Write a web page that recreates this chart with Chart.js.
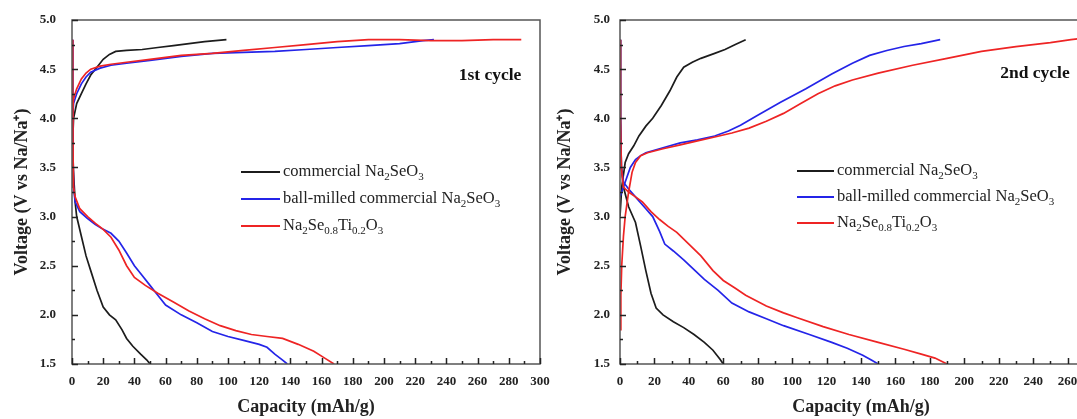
<!DOCTYPE html>
<html>
<head>
<meta charset="utf-8">
<script src="https://cdn.jsdelivr.net/npm/chart.js@4.4.1/dist/chart.umd.min.js"></script>
<style>
  html, body { margin: 0; padding: 0; background: #fff; width: 1077px; height: 419px; overflow: hidden; }
  .panel { position: absolute; top: 0; height: 419px; }
  #p1 { left: 0; width: 560px; }
  #p2 { left: 545px; width: 567px; }
</style>
</head>
<body>
<div class="panel" id="p1"><canvas id="cycle1"></canvas></div>
<div class="panel" id="p2"><canvas id="cycle2"></canvas></div>
<script>
// ---- data: [capacity mAh/g, voltage V] ----

// 1st cycle
const c1CommercialCharge = [[0,3.3],[0.5,3.8],[1,4.0],[3,4.15],[6,4.25],[9,4.35],[12,4.44],[16,4.52],[20,4.6],[24,4.65],[28,4.68],[35,4.69],[45,4.7],[55,4.72],[65,4.74],[75,4.76],[85,4.78],[99,4.8]];
const c1CommercialDischarge = [[0,4.8],[0.3,4.0],[0.8,3.5],[2,3.15],[3,3.0],[6,2.8],[9,2.6],[12,2.45],[16,2.25],[20,2.08],[24,2.0],[28,1.95],[32,1.85],[35,1.76],[39,1.68],[44,1.6],[48,1.54],[50,1.5]];
const c1MilledCharge = [[0,3.3],[0.5,4.0],[1,4.15],[3,4.25],[6,4.35],[9,4.42],[12,4.47],[18,4.51],[25,4.54],[35,4.56],[50,4.59],[70,4.63],[90,4.66],[110,4.67],[130,4.68],[150,4.7],[170,4.72],[190,4.74],[210,4.76],[225,4.79],[232,4.8]];
const c1MilledDischarge = [[0,4.8],[0.5,3.8],[1,3.3],[2,3.15],[5,3.05],[10,2.98],[15,2.92],[20,2.87],[25,2.83],[30,2.75],[35,2.63],[40,2.5],[45,2.4],[50,2.3],[55,2.2],[60,2.1],[70,2.0],[80,1.92],[90,1.83],[100,1.78],[110,1.74],[120,1.7],[125,1.67],[130,1.6],[135,1.54],[138,1.5]];
const c1DopedCharge = [[0,3.3],[0.5,4.1],[1,4.2],[3,4.3],[6,4.4],[9,4.46],[12,4.5],[18,4.53],[25,4.55],[35,4.57],[50,4.6],[70,4.64],[90,4.66],[110,4.69],[130,4.72],[150,4.75],[170,4.78],[190,4.8],[210,4.8],[230,4.79],[250,4.79],[270,4.8],[288,4.8]];
const c1DopedDischarge = [[0,4.8],[0.5,3.8],[1,3.3],[2,3.2],[5,3.08],[10,3.0],[15,2.93],[20,2.87],[25,2.79],[30,2.66],[35,2.5],[40,2.38],[47,2.3],[55,2.22],[65,2.13],[75,2.04],[85,1.96],[95,1.89],[105,1.84],[115,1.8],[125,1.78],[135,1.76],[145,1.7],[155,1.63],[162,1.56],[168,1.5]];

// 2nd cycle
const c2CommercialCharge = [[0,3.0],[1,3.3],[3,3.55],[5,3.64],[8,3.72],[11,3.82],[15,3.92],[19,4.0],[24,4.13],[29,4.28],[33,4.42],[37,4.52],[42,4.57],[47,4.61],[55,4.66],[61,4.7],[67,4.75],[73,4.8]];
const c2CommercialDischarge = [[0,4.8],[0.3,4.0],[0.8,3.5],[2,3.3],[5,3.1],[9,2.94],[12,2.7],[15,2.45],[18,2.22],[21,2.07],[25,2.0],[31,1.93],[37,1.87],[43,1.8],[49,1.72],[54,1.64],[58,1.55],[60,1.5]];
const c2MilledCharge = [[0,3.2],[2,3.3],[4,3.4],[6,3.5],[9,3.58],[12,3.62],[15,3.65],[25,3.7],[35,3.75],[45,3.78],[55,3.82],[63,3.87],[70,3.93],[80,4.03],[93,4.16],[108,4.3],[123,4.45],[135,4.56],[145,4.64],[155,4.69],[165,4.73],[175,4.76],[186,4.8]];
const c2MilledDischarge = [[0,4.8],[0.3,4.0],[0.8,3.5],[2,3.35],[5,3.28],[10,3.18],[15,3.08],[19,3.0],[23,2.85],[26,2.72],[31,2.65],[37,2.56],[43,2.46],[49,2.36],[57,2.25],[65,2.12],[75,2.03],[85,1.96],[95,1.89],[110,1.8],[123,1.72],[132,1.66],[141,1.59],[146,1.54],[150,1.5]];
const c2DopedCharge = [[0,1.85],[0.5,2.2],[1,2.5],[2,2.8],[3,3.0],[5,3.25],[7,3.45],[9,3.55],[12,3.62],[16,3.65],[25,3.69],[35,3.73],[45,3.77],[55,3.81],[65,3.85],[75,3.9],[85,3.97],[95,4.05],[105,4.15],[115,4.25],[125,4.33],[135,4.39],[150,4.46],[170,4.54],[190,4.61],[210,4.68],[230,4.73],[250,4.77],[262,4.8],[272,4.82]];
const c2DopedDischarge = [[0,4.8],[0.3,4.0],[0.8,3.5],[2,3.3],[5,3.25],[9,3.2],[13,3.15],[18,3.05],[23,2.97],[28,2.9],[33,2.84],[40,2.72],[47,2.6],[54,2.45],[60,2.35],[67,2.27],[73,2.2],[85,2.09],[95,2.02],[103,1.97],[118,1.88],[133,1.8],[150,1.72],[165,1.65],[175,1.6],[183,1.56],[190,1.5]];

const seriesLabels = [
  "commercial Na_{2}SeO_{3}",
  "ball-milled commercial Na_{2}SeO_{3}",
  "Na_{2}Se_{0.8}Ti_{0.2}O_{3}"
];
const seriesColors = ["#1c1c1c", "#2424e8", "#ee2424"];
const yTicks = [1.5, 2.0, 2.5, 3.0, 3.5, 4.0, 4.5, 5.0];

const SERIF = '"Liberation Serif", "Times New Roman", serif';

// rich text with _{sub} parts
function drawRich(ctx, text, x, y) {
  const parts = text.split(/_\{([^}]*)\}/);
  ctx.textBaseline = "middle";
  ctx.textAlign = "left";
  ctx.fillStyle = "#222";
  parts.forEach((p, i) => {
    const sub = i % 2 === 1;
    ctx.font = sub ? `11px ${SERIF}` : `16.5px ${SERIF}`;
    ctx.fillText(p, x, sub ? y + 5 : y);
    x += ctx.measureText(p).width;
  });
}

// box frame + inward ticks, legend, cycle label
const panelDecor = {
  id: "panelDecor",
  afterDatasetsDraw(chart, args, o) {
    const { ctx, chartArea: a, scales: { x, y } } = chart;
    ctx.save();
    ctx.strokeStyle = "#555";
    ctx.lineWidth = 1.5;
    ctx.strokeRect(a.left, a.top, a.width, a.height);
    ctx.strokeStyle = "#222";
    ctx.beginPath();
    for (let v = x.min; v <= x.max + 1e-6; v += 10) {
      const px = Math.round(x.getPixelForValue(v)) + 0.5;
      const len = v % 20 === 0 ? 6 : 3;
      ctx.moveTo(px, a.bottom);
      ctx.lineTo(px, a.bottom - len);
    }
    for (let v = y.min; v <= y.max + 1e-6; v += 0.25) {
      const py = Math.round(y.getPixelForValue(v)) + 0.5;
      const len = Math.abs(v * 2 - Math.round(v * 2)) < 1e-6 ? 6 : 3;
      ctx.moveTo(a.left, py);
      ctx.lineTo(a.left + len, py);
    }
    ctx.stroke();
    ctx.restore();
  },
  afterDraw(chart, args, o) {
    const ctx = chart.ctx;
    ctx.save();
    seriesLabels.forEach((lab, i) => {
      const yy = o.legendY + i * o.legendGap;
      ctx.strokeStyle = seriesColors[i];
      ctx.lineWidth = 2;
      ctx.beginPath();
      ctx.moveTo(o.legendX, yy);
      ctx.lineTo(o.legendX + o.legendLen, yy);
      ctx.stroke();
      drawRich(ctx, lab, o.legendX + o.legendLen + 3, yy);
    });
    ctx.font = `bold 17.5px ${SERIF}`;
    ctx.fillStyle = "#111";
    ctx.textAlign = "center";
    ctx.textBaseline = "middle";
    ctx.fillText(o.cycleText, o.cycleX, o.cycleY);
    ctx.restore();
  }
};

function line(data, i, order) {
  return {
    data: data.map(p => ({ x: p[0], y: p[1] })),
    borderColor: seriesColors[i],
    borderWidth: 1.7,
    pointRadius: 0,
    showLine: true,
    fill: false,
    tension: 0,
    order
  };
}

function makePanel(id, sets, xMax, yWidth, yTitlePad, yTickPad, rightPad, decor) {
  return new Chart(document.getElementById(id), {
    type: "scatter",
    data: { datasets: sets },
    options: {
      responsive: true, maintainAspectRatio: false, animation: false,
      layout: { padding: { top: 20, right: rightPad, bottom: 0, left: 0 } },
      plugins: { legend: { display: false }, tooltip: { enabled: false }, panelDecor: decor },
      scales: {
        x: {
          type: "linear", min: 0, max: xMax,
          grid: { display: false, drawTicks: false },
          border: { display: false },
          ticks: { stepSize: 20, padding: 10, color: "#222", font: { family: SERIF, size: 13, weight: "bold" } },
          title: { display: true, text: "Capacity (mAh/g)", color: "#222", padding: { top: 0, bottom: 1 }, font: { family: SERIF, size: 18, weight: "bold" } },
          afterFit: s => { s.height = 55; s.paddingLeft = 0; s.paddingRight = 0; }
        },
        y: {
          type: "linear", min: 1.5, max: 5.0,
          grid: { display: false, drawTicks: false },
          border: { display: false },
          afterBuildTicks: s => { s.ticks = yTicks.map(v => ({ value: v })); },
          ticks: { padding: yTickPad, color: "#222", callback: v => v.toFixed(1), font: { family: SERIF, size: 13, weight: "bold" } },
          title: { display: true, text: "Voltage (V vs Na/Na⁺)", color: "#222", padding: { top: yTitlePad, bottom: 0 }, font: { family: SERIF, size: 18, weight: "bold" } },
          afterFit: s => { s.width = yWidth; s.paddingTop = 0; s.paddingBottom = 0; }
        }
      }
    },
    plugins: [panelDecor]
  });
}

makePanel("cycle1", [
  line(c1CommercialCharge, 0, 2), line(c1CommercialDischarge, 0, 2),
  line(c1MilledCharge, 1, 1), line(c1MilledDischarge, 1, 1),
  line(c1DopedCharge, 2, 0), line(c1DopedDischarge, 2, 0)
], 300, 72, 12, 16, 20,
  { legendX: 241, legendY: 172, legendGap: 27, legendLen: 39, cycleText: "1st cycle", cycleX: 490, cycleY: 75 });

makePanel("cycle2", [
  line(c2CommercialCharge, 0, 2), line(c2CommercialDischarge, 0, 2),
  line(c2MilledCharge, 1, 1), line(c2MilledDischarge, 1, 1),
  line(c2DopedCharge, 2, 0), line(c2DopedDischarge, 2, 0)
], 280, 75, 10, 10, 10,
  { legendX: 252, legendY: 171, legendGap: 26, legendLen: 37, cycleText: "2nd cycle", cycleX: 490, cycleY: 73 });
</script>
</body>
</html>
